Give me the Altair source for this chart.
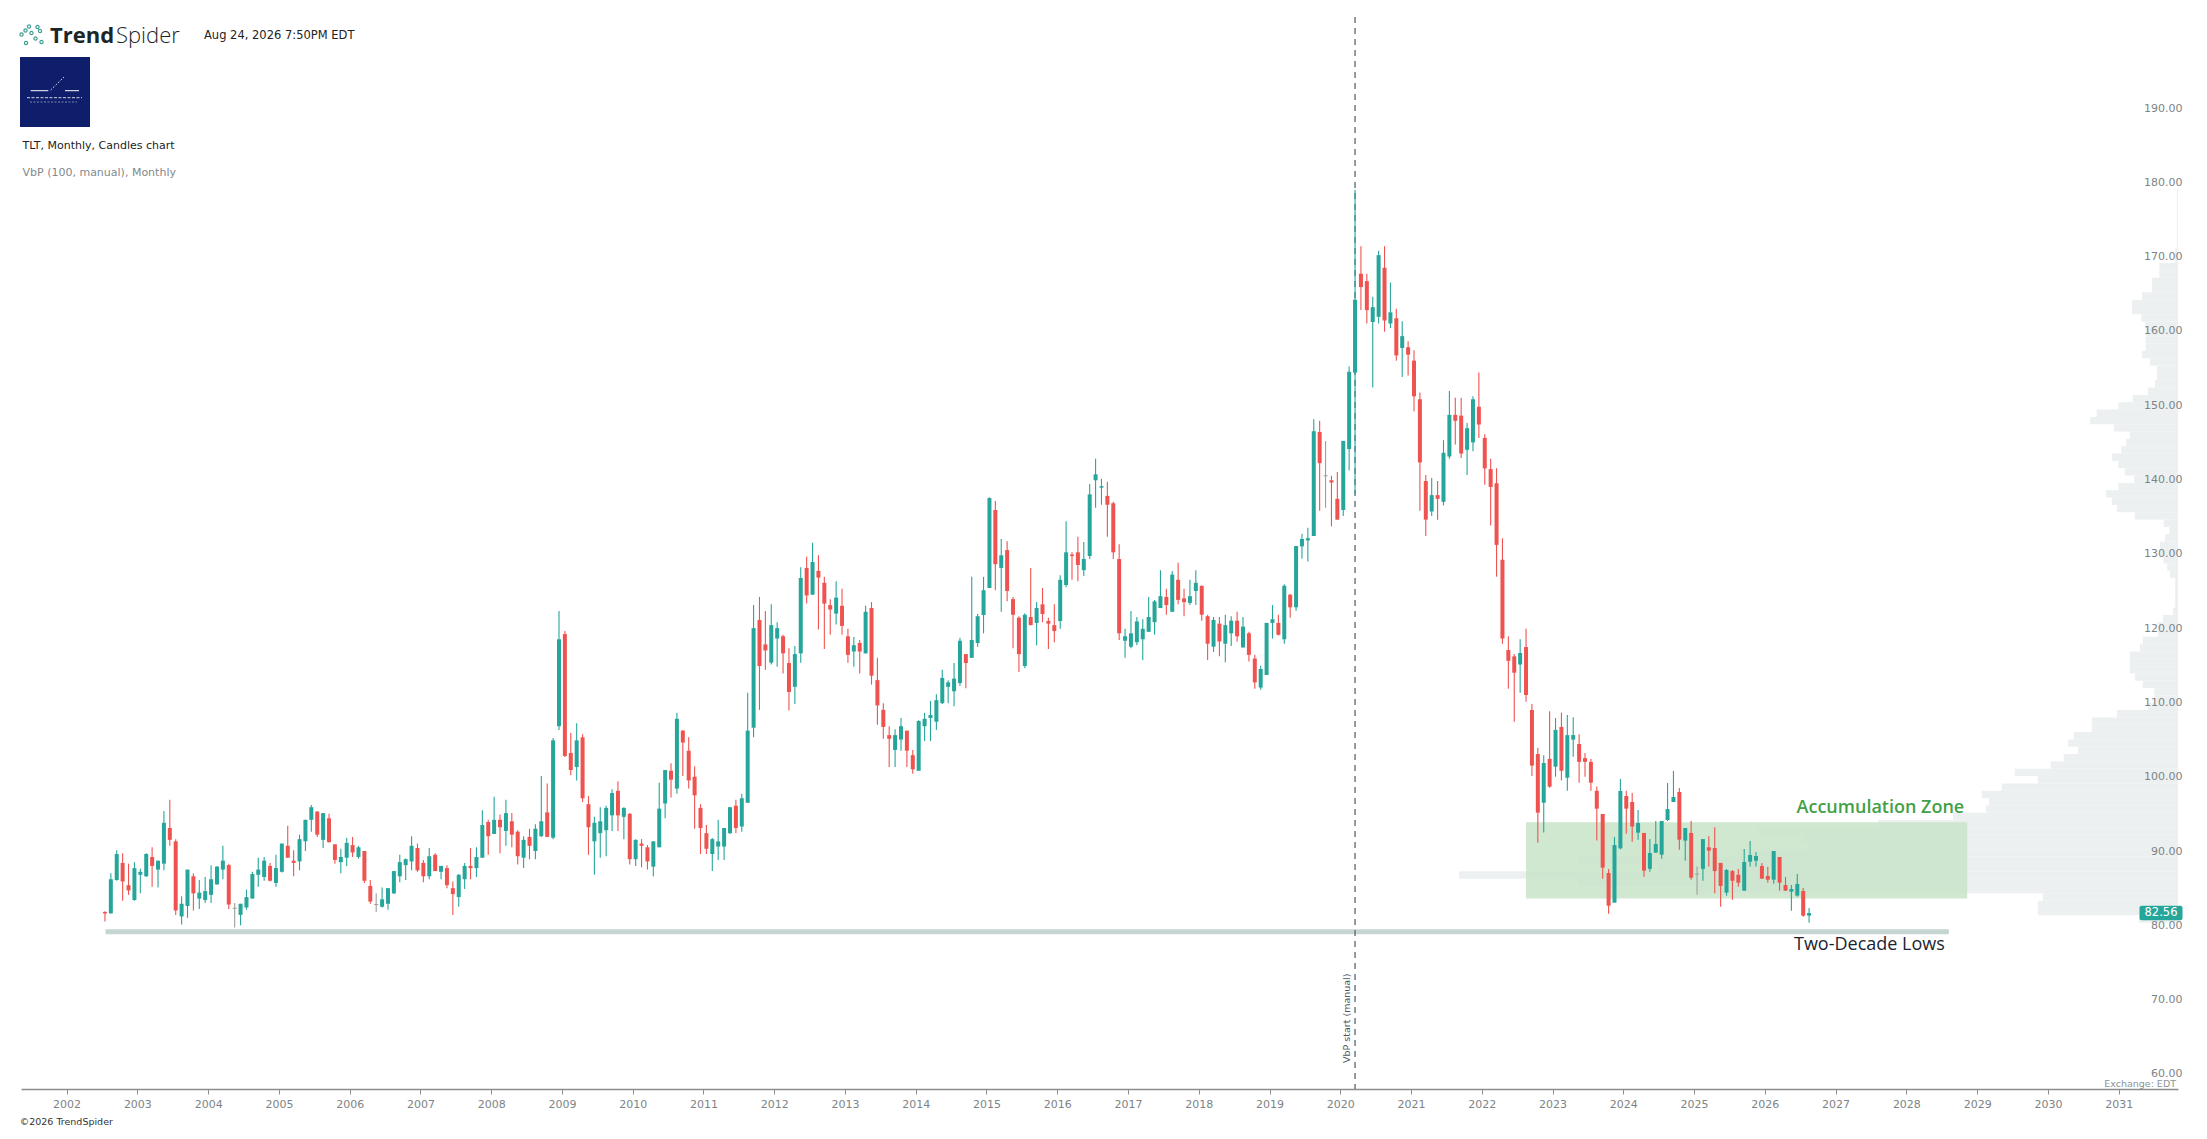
import altair as alt
import pandas as pd
import numpy as np

# ---------------- data (TLT monthly candles, Jul 2002 - Aug 2026) ----------------
START_YEAR, START_MONTH = 2002, 7

OPEN = [
    81.8, 81.6, 86.1, 88.4, 85.4, 83.4,
    86.8, 86.6, 89.2, 87.5, 88.3, 93.1, 91.3, 81.2, 82.6, 86.6, 83.6, 83.4,
    84.1, 85.5, 87.5, 88.1, 82.3, 81.4, 82.4, 83.6, 86.8, 86.5, 88.0, 85.7,
    87.2, 90.7, 88.7, 88.6, 91.3, 94.2, 95.3, 91.5, 94.4, 90.9, 88.5, 89.1,
    90.8, 89.2, 90.0, 85.3, 82.8, 82.5, 82.9, 84.3, 86.6, 88.1, 88.6, 90.4,
    88.4, 86.6, 89.5, 87.2, 87.7, 85.0, 83.8, 86.2, 88.0, 87.7, 89.1, 93.9,
    92.3, 94.2, 92.7, 94.0, 92.6, 89.1, 91.9, 90.0, 92.0, 95.2, 91.8, 106.8,
    119.2, 103.2, 101.3, 105.3, 96.3, 91.3, 92.4, 92.8, 94.8, 98.1, 94.6, 95.0,
    88.9, 91.0, 90.5, 87.9, 90.5, 96.4, 100.8, 98.4, 106.2, 103.5, 100.0, 95.8,
    92.4, 89.6, 90.6, 90.6, 92.4, 96.1, 93.3, 96.5, 106.6, 121.1, 117.8, 115.35,
    118.6, 118.9, 115.3, 112.1, 116.6, 128.1, 124.5, 127.7, 126.1, 123.1, 121.95, 123.0,
    118.9, 116.85, 118.0, 116.6, 122.7, 113.0, 109.0, 105.6, 103.6, 105.0, 106.2, 102.9,
    100.8, 106.8, 107.9, 107.4, 109.9, 112.1, 111.5, 112.6, 116.5, 116.0, 118.0, 121.76,
    125.4, 135.9, 128.1, 130.5, 123.9, 121.4, 114.9, 121.5, 120.7, 123.2, 120.95, 120.4,
    120.95, 125.8, 129.9, 130.2, 127.8, 129.7, 139.9, 138.9, 137.8, 136.8, 129.3, 118.3,
    117.5, 118.1, 118.5, 119.5, 120.8, 122.7, 124.2, 122.2, 126.5, 124.0, 123.4, 125.0,
    125.7, 121.6, 117.5, 120.6, 117.9, 119.3, 121.0, 117.4, 119.3, 115.9, 112.0, 113.7,
    120.7, 120.7, 118.5, 124.5, 122.8, 131.0, 131.8, 132.4, 146.4, 140.5, 139.9, 137.4,
    135.9, 144.1, 154.4, 167.7, 166.7, 161.2, 161.9, 168.5, 161.0, 161.7, 157.7, 157.8,
    156.0, 150.8, 139.8, 135.7, 137.9, 137.0, 143.1, 148.7, 148.6, 144.0, 145.0, 149.8,
    145.6, 141.4, 139.5, 129.2, 117.05, 116.2, 115.1, 117.45, 108.98, 103.06, 96.5, 102.4,
    101.35, 106.7, 99.87, 105.0, 104.4, 102.5, 102.0, 98.1, 94.98, 87.04, 83.05, 90.36,
    97.4, 96.6, 92.47, 92.43, 87.6, 89.78, 89.51, 94.17, 96.6, 97.94, 91.4, 92.43,
    86.9, 87.6, 90.5, 90.4, 88.4, 84.4, 87.3, 86.8, 84.66, 88.57, 88.7, 87.98,
    86.64, 86.14, 89.2, 85.43, 84.53, 84.0, 84.62, 81.3,
]
HIGH = [
    81.9, 87.0, 90.1, 89.7, 88.3, 88.5,
    87.6, 89.7, 90.5, 88.7, 95.4, 96.9, 91.6, 83.9, 87.5, 87.0, 86.1, 86.5,
    88.1, 88.0, 90.7, 88.3, 83.0, 82.9, 84.8, 87.2, 89.1, 89.2, 88.4, 89.5,
    91.0, 93.4, 90.1, 92.2, 94.2, 96.2, 95.4, 95.1, 95.0, 90.9, 90.3, 91.8,
    91.9, 90.7, 90.0, 86.1, 84.3, 85.1, 85.0, 87.3, 89.5, 89.0, 92.0, 91.0,
    88.8, 90.4, 89.7, 88.0, 88.1, 85.9, 86.9, 88.4, 90.4, 90.5, 95.5, 94.2,
    97.3, 94.9, 96.9, 95.1, 92.8, 92.0, 93.0, 93.6, 100.1, 99.1, 105.2, 122.3,
    119.6, 105.9, 107.2, 105.7, 97.4, 94.6, 95.9, 96.1, 98.3, 99.4, 95.9, 95.1,
    91.6, 91.6, 90.8, 91.3, 99.2, 100.9, 101.8, 108.6, 106.3, 105.3, 101.4, 96.3,
    93.5, 91.75, 94.2, 93.1, 95.9, 96.9, 97.7, 111.3, 123.1, 124.2, 122.3, 123.2,
    120.8, 119.1, 117.3, 117.6, 128.2, 129.6, 131.5, 129.8, 126.9, 123.9, 126.3, 125.3,
    119.9, 118.8, 118.4, 123.0, 123.5, 116.0, 109.9, 106.8, 106.4, 107.9, 106.2, 103.6,
    107.6, 108.6, 110.2, 111.1, 114.4, 113.0, 115.3, 118.7, 116.5, 126.9, 121.9, 126.9,
    137.6, 137.1, 132.0, 131.7, 124.2, 121.6, 122.0, 128.1, 123.5, 125.4, 121.4, 123.2,
    127.1, 134.4, 130.2, 132.3, 131.6, 139.4, 142.8, 140.1, 139.7, 137.0, 131.3, 119.9,
    122.3, 121.5, 121.2, 124.2, 123.8, 127.8, 125.3, 127.7, 128.8, 125.3, 126.5, 127.8,
    125.7, 121.8, 121.5, 121.5, 121.8, 121.6, 122.2, 121.5, 119.5, 116.4, 114.95, 120.7,
    123.1, 121.8, 125.9, 124.6, 131.06, 132.7, 133.5, 148.1, 147.9, 145.2, 140.5, 141.0,
    145.2, 155.2, 179.0, 171.4, 167.7, 164.6, 170.8, 171.4, 166.5, 163.0, 161.3, 158.6,
    157.4, 151.7, 140.6, 140.2, 139.8, 145.3, 151.9, 151.0, 151.0, 147.6, 151.2, 154.4,
    146.1, 142.8, 141.5, 132.1, 118.9, 116.5, 118.5, 119.9, 109.8, 103.9, 102.9, 108.8,
    107.9, 108.6, 108.3, 108.0, 105.7, 103.2, 102.4, 98.7, 94.98, 87.58, 91.9, 99.7,
    98.1, 97.8, 95.52, 92.43, 91.62, 94.04, 94.04, 99.15, 100.77, 98.48, 93.1, 94.04,
    87.9, 91.6, 92.0, 93.2, 88.4, 87.58, 87.45, 87.58, 90.27, 91.35, 89.87, 88.39,
    87.85, 90.0, 89.2, 86.5, 85.43, 86.9, 85.02, 82.33,
]
LOW = [
    80.5, 81.6, 86.0, 83.3, 84.1, 83.3,
    84.3, 86.5, 85.2, 85.1, 87.4, 90.7, 81.4, 80.1, 81.0, 82.0, 82.2, 83.0,
    83.0, 85.5, 86.2, 82.2, 79.7, 80.0, 82.1, 83.6, 85.2, 86.0, 85.9, 85.2,
    87.1, 89.1, 86.6, 87.4, 90.0, 92.6, 91.9, 90.4, 91.1, 88.3, 87.0, 88.0,
    89.2, 88.97, 85.7, 82.9, 81.8, 82.4, 82.1, 84.2, 85.8, 86.1, 87.4, 87.2,
    85.8, 86.2, 87.3, 86.2, 85.0, 81.4, 82.5, 84.9, 86.2, 86.5, 89.1, 89.5,
    92.3, 89.7, 90.7, 90.5, 88.2, 87.7, 88.9, 88.9, 91.9, 91.9, 91.6, 106.3,
    102.65, 100.2, 99.5, 96.6, 89.5, 86.8, 89.1, 89.3, 92.7, 92.7, 91.6, 88.2,
    88.0, 87.8, 87.5, 86.6, 90.5, 94.4, 97.2, 97.7, 100.1, 98.4, 93.0, 89.6,
    89.6, 87.3, 88.8, 88.8, 92.3, 92.4, 92.6, 96.5, 105.3, 109.0, 114.4, 115.1,
    114.8, 113.9, 108.9, 109.8, 115.35, 123.3, 124.5, 119.8, 117.2, 119.1, 120.5, 119.1,
    115.35, 114.8, 113.9, 116.6, 112.4, 107.0, 105.1, 101.3, 101.3, 103.5, 101.3, 100.4,
    100.8, 104.8, 104.8, 106.3, 109.8, 109.9, 109.5, 112.2, 111.9, 116.0, 117.5, 119.3,
    125.4, 125.1, 122.2, 123.6, 117.3, 114.1, 114.6, 120.4, 117.7, 120.8, 117.2, 118.1,
    119.9, 125.5, 126.5, 126.3, 127.0, 129.3, 136.2, 136.6, 132.3, 129.3, 118.4, 116.0,
    117.3, 117.7, 115.7, 119.5, 119.1, 122.7, 121.8, 122.2, 123.2, 121.6, 123.1, 123.1,
    121.0, 115.7, 116.8, 116.2, 115.4, 117.6, 118.2, 117.4, 115.5, 111.85, 111.7, 113.7,
    118.6, 119.0, 117.9, 121.4, 122.35, 129.35, 128.95, 132.4, 135.8, 136.2, 133.7, 134.6,
    135.1, 141.2, 138.1, 162.8, 161.0, 152.4, 161.0, 159.9, 160.4, 156.0, 153.8, 154.0,
    149.2, 135.8, 132.4, 135.1, 134.6, 136.5, 142.8, 144.7, 142.9, 140.6, 143.8, 145.6,
    139.3, 133.8, 126.9, 117.9, 111.85, 107.4, 111.3, 110.1, 100.1, 91.1, 92.5, 98.5,
    100.0, 99.5, 98.1, 102.7, 99.2, 100.0, 98.1, 91.4, 86.28, 81.57, 83.05, 90.23,
    92.34, 91.26, 91.53, 86.55, 87.22, 89.78, 88.97, 94.04, 96.6, 90.18, 88.7, 86.14,
    84.1, 86.0, 87.9, 84.3, 82.5, 83.99, 83.45, 85.2, 84.66, 87.9, 87.9, 86.28,
    85.74, 85.6, 84.66, 84.66, 81.97, 83.86, 81.16, 80.36,
]
CLOSE = [
    81.6, 86.2, 89.6, 85.9, 84.7, 87.7,
    87.2, 89.6, 88.0, 88.7, 93.8, 91.5, 82.0, 82.9, 87.5, 84.3, 84.4, 84.6,
    86.2, 87.9, 88.7, 82.8, 82.3, 82.9, 83.8, 86.9, 87.5, 88.7, 86.0, 87.7,
    91.0, 89.1, 88.4, 91.6, 94.2, 95.9, 92.2, 95.1, 91.2, 88.8, 89.2, 91.1,
    89.8, 90.5, 86.0, 83.2, 82.8, 83.5, 85.0, 87.3, 88.5, 88.9, 90.7, 87.4,
    86.6, 89.3, 87.3, 88.0, 85.4, 84.2, 86.8, 88.0, 87.7, 89.2, 93.5, 92.0,
    94.2, 93.2, 95.1, 92.2, 89.3, 91.5, 90.7, 93.0, 94.0, 91.9, 104.9, 118.5,
    102.8, 100.9, 104.9, 97.1, 93.2, 93.8, 94.0, 95.8, 97.8, 94.8, 95.8, 88.9,
    91.5, 90.7, 88.6, 91.3, 95.7, 100.9, 99.6, 107.8, 104.6, 99.5, 97.5, 93.1,
    90.3, 91.6, 91.3, 93.1, 95.9, 93.1, 97.1, 106.2, 120.0, 114.9, 117.0, 120.4,
    120.0, 116.6, 111.4, 116.5, 126.75, 124.4, 128.9, 126.8, 123.3, 122.5, 124.1, 120.3,
    116.4, 117.7, 116.85, 122.2, 113.6, 109.6, 106.7, 105.1, 105.6, 106.8, 103.5, 101.0,
    107.5, 107.8, 108.3, 110.3, 113.3, 112.7, 113.2, 118.3, 115.3, 118.4, 121.6, 125.1,
    137.5, 128.6, 129.8, 125.0, 121.8, 116.5, 121.8, 120.4, 122.7, 121.9, 120.6, 119.6,
    126.5, 130.2, 129.7, 128.5, 129.3, 138.0, 140.7, 139.1, 136.6, 130.2, 119.3, 118.9,
    119.3, 120.9, 119.9, 121.5, 123.6, 124.3, 123.1, 127.2, 123.8, 123.5, 124.3, 126.1,
    121.8, 117.9, 121.1, 118.2, 120.4, 121.0, 118.9, 120.2, 116.4, 112.7, 114.5, 120.7,
    121.2, 119.1, 125.7, 122.8, 131.06, 132.0, 132.1, 146.5, 142.2, 140.5, 139.6, 134.6,
    145.2, 154.5, 164.2, 165.9, 162.8, 163.2, 170.2, 161.4, 162.5, 156.7, 159.3, 156.8,
    151.2, 142.3, 134.6, 137.9, 137.4, 143.6, 148.7, 147.9, 143.5, 146.9, 150.8, 147.4,
    141.5, 139.0, 131.2, 118.6, 115.6, 114.0, 116.65, 111.0, 101.5, 95.16, 101.85, 98.66,
    106.3, 100.8, 105.6, 105.6, 102.0, 102.0, 99.2, 95.7, 87.76, 82.64, 90.8, 98.08,
    95.7, 93.3, 93.77, 87.36, 89.73, 90.94, 94.04, 95.65, 97.27, 91.53, 93.1, 86.41,
    86.9, 91.6, 90.05, 87.3, 85.3, 87.45, 86.0, 85.74, 88.52, 89.46, 89.33, 86.28,
    86.14, 90.0, 85.74, 84.66, 84.89, 85.56, 81.3, 81.66,
]

# Volume-by-price profile: 100 rows between these prices, relative volume (POC = 100)
VBP_LOW, VBP_HIGH = 80.36, 179.0
VBP_VOLUME = [
    5.4, 19.5, 19.5, 18.8, 66.8, 83.4, 100.0, 72.3, 83.4, 61.2,
    51.5, 52.2, 58.4, 41.7, 31.3, 26.7, 26.3, 27.3, 24.5, 19.5,
    22.7, 17.7, 15.9, 13.9, 15.3, 14.5, 12.0, 12.0, 8.5, 4.2,
    3.3, 3.3, 4.9, 6.0, 6.7, 6.7, 6.7, 5.3, 4.9, 2.8,
    2.8, 2.1, 0.7, 0.4, 0.4, 0.4, 0.4, 1.1, 1.5, 2.0,
    2.5, 2.5, 1.8, 1.2, 2.0, 6.0, 8.5, 9.2, 10.0, 8.3,
    6.1, 7.4, 8.3, 9.2, 7.9, 7.2, 6.7, 8.9, 12.2, 11.3,
    8.3, 6.3, 4.2, 3.2, 2.9, 2.9, 3.9, 5.0, 4.5, 4.5,
    4.5, 4.5, 5.1, 6.4, 6.4, 5.0, 3.6, 3.6, 2.6, 2.6,
    0.4, 0.4, 0.15, 0.15, 0.15, 0.15, 0.15, 0.15, 0.15, 0.15,
]

# annotations (dates as decimal years, prices in $)
ZONE_START, ZONE_END = 2022.625, 2028.86
ZONE_LOW, ZONE_HIGH = 83.6, 93.86
LOWS_START, LOWS_END, LOWS_PRICE = 2002.55, 2028.6, 79.12
VBP_START = 2020 + 2.5 / 12
LAST_PRICE_LABEL = "82.56"

X_DOMAIN = [2001.426, 2031.768]
Y_DOMAIN = [57.97, 202.25]
YEAR_TICKS = list(range(2002, 2032))
PRICE_TICKS = list(range(60, 200, 10))

# ---------------- frames ----------------
n = len(OPEN)
t = []
for i in range(n):
    mi = START_MONTH - 1 + i
    t.append(START_YEAR + mi // 12 + ((mi % 12) + 0.5) / 12)
df = pd.DataFrame({"t": t, "open": OPEN, "high": HIGH, "low": LOW, "close": CLOSE})
o = df["open"].to_numpy()
c = df["close"].to_numpy()
df["dir"] = np.where(c > o, "up", np.where(c < o, "down", "flat"))
df["body_lo"] = np.minimum(o, c)
df["body_hi"] = np.maximum(o, c)
flat = df["dir"] == "flat"
df.loc[flat, "body_lo"] = df.loc[flat, "open"] - 0.07
df.loc[flat, "body_hi"] = df.loc[flat, "open"] + 0.07

step = (VBP_HIGH - VBP_LOW) / len(VBP_VOLUME)
vbp = pd.DataFrame({
    "p0": [VBP_LOW + i * step for i in range(len(VBP_VOLUME))],
    "p1": [VBP_LOW + (i + 1) * step for i in range(len(VBP_VOLUME))],
    "vol": VBP_VOLUME,
    "zero": 0.0,
})

zone = pd.DataFrame({"x1": [ZONE_START], "x2": [ZONE_END], "y1": [ZONE_LOW], "y2": [ZONE_HIGH],
                     "label": ["Accumulation Zone"]})
lows = pd.DataFrame({"x1": [LOWS_START], "x2": [LOWS_END], "y": [LOWS_PRICE], "label": ["Two-Decade Lows"]})
vline = pd.DataFrame({"t": [VBP_START], "label": ["VbP start (manual)"]})
last = df.tail(1).copy()
last["label"] = LAST_PRICE_LABEL
one = pd.DataFrame({"a": [0]})

# ---------------- geometry / style ----------------
W, H = 2157, 1072
UP, DOWN, FLAT = "#26a69a", "#ef5350", "#9e9e9e"
AXIS_GRAY = "#7d8486"

xs = alt.Scale(domain=X_DOMAIN, nice=False, zero=False)
ys = alt.Scale(domain=Y_DOMAIN, nice=False, zero=False)
xaxis = alt.Axis(values=YEAR_TICKS, format="d", title=None, grid=False,
                 domainColor="#8c8c8c", domainWidth=1.5, tickColor="#8c8c8c", tickSize=5,
                 labelColor=AXIS_GRAY, labelFont="DejaVu Sans", labelFontSize=11,
                 labelPadding=4, labelFlush=False)
yaxis = alt.Axis(orient="right", values=PRICE_TICKS, format=".2f", title=None, grid=False,
                 domain=False, ticks=False, tickSize=0, labelAlign="right", labelPadding=4,
                 labelColor=AXIS_GRAY, labelFont="DejaVu Sans", labelFontSize=11,
                 labelFlush=False, zindex=1)
cscale = alt.Scale(domain=["up", "down", "flat"], range=[UP, DOWN, FLAT])

def X(field):
    return alt.X(field, type="quantitative", scale=xs, axis=xaxis)

def Y(field):
    return alt.Y(field, type="quantitative", scale=ys, axis=yaxis)

# volume profile (own horizontal scale, growing from the right edge)
vbp_layer = alt.Chart(vbp).mark_rect(color="#ecf0f1").encode(
    x=alt.X("vol:Q", scale=alt.Scale(domain=[0, 300], reverse=True), axis=None),
    x2="zero:Q",
    y=Y("p0"), y2="p1:Q",
)

zone_rect = alt.Chart(zone).mark_rect(color="#c9e4ca", opacity=0.88).encode(
    x=X("x1"), x2="x2:Q", y=Y("y1"), y2="y2:Q")
zone_text = alt.Chart(zone).mark_text(align="right", baseline="alphabetic", dx=-3, dy=-9,
                                      font="Open Sans", fontSize=18, fontWeight=600,
                                      color="#43a047").encode(
    x=X("x2"), y=Y("y2"), text="label:N")

lows_rule = alt.Chart(lows).mark_rule(strokeWidth=5, color="#c5d6d2").encode(
    x=X("x1"), x2="x2:Q", y=Y("y"))
lows_text = alt.Chart(lows).mark_text(align="right", baseline="alphabetic", dx=-4, dy=18,
                                      font="Open Sans", fontSize=18, fontWeight=500,
                                      color="#1b2430").encode(
    x=X("x2"), y=Y("y"), text="label:N")

dash = alt.Chart(vline).mark_rule(strokeDash=[6, 5], strokeWidth=1.3, color="#5b6570").encode(
    x=X("t"))
dash_text = alt.Chart(vline).mark_text(angle=270, align="left", baseline="bottom", dy=-3,
                                       font="DejaVu Sans", fontSize=9.5, color="#50585f").encode(
    x=X("t"), y=alt.value(H - 26), text="label:N")

wicks = alt.Chart(df).mark_rule(strokeWidth=1.1).encode(
    x=X("t"), y=Y("low"), y2="high:Q",
    color=alt.Color("dir:N", scale=cscale, legend=None))
bodies = alt.Chart(df).mark_bar(size=4).encode(
    x=X("t"), y=Y("body_lo"), y2="body_hi:Q",
    color=alt.Color("dir:N", scale=cscale, legend=None))

BADGE = ("M-0.9,-0.34 L0.9,-0.34 Q1,-0.34 1,-0.24 L1,0.24 Q1,0.34 0.9,0.34 "
         "L-0.9,0.34 Q-1,0.34 -1,0.24 L-1,-0.24 Q-1,-0.34 -0.9,-0.34 Z")
badge = alt.Chart(last).mark_point(shape=BADGE, filled=True, size=43 * 43, opacity=1,
                                   color=UP, strokeWidth=0).encode(
    x=alt.value(W - 17), y=Y("close"))
badge_text = alt.Chart(last).mark_text(font="DejaVu Sans", fontSize=11.5, color="white",
                                       baseline="middle", align="center").encode(
    x=alt.value(W - 17), y=Y("close"), text="label:N")

# ---------------- header / footer decorations ----------------
LOGO = " ".join(
    f"M{cx - 0.13:.2f},{cy:.2f} a0.13,0.13 0 1,0 0.26,0 a0.13,0.13 0 1,0 -0.26,0"
    for cx, cy in [(-0.88, -0.04), (-0.56, -0.36), (-0.28, -0.68), (-0.08, -0.16),
                   (0.4, -0.64), (0.6, -0.32), (0.24, 0.28), (0.72, 0.56), (-0.52, 0.64)]
)
logo = alt.Chart(one).mark_point(shape=LOGO, size=625, filled=False, strokeWidth=1.2,
                                 color="#3f9e93", opacity=1).encode(
    x=alt.value(11.5), y=alt.value(18))

def txt(s, x, y, size, color, weight=400, font="DejaVu Sans", align="left", baseline="middle"):
    return alt.Chart(one).mark_text(text=s, align=align, baseline=baseline, font=font,
                                    fontSize=size, fontWeight=weight, color=color).encode(
        x=alt.value(x), y=alt.value(y))

brand1 = txt("Trend", 29, 25.5, 22, "#1b2626", weight=700, font="Open Sans", baseline="alphabetic")
brand2 = txt("Spider", 95, 25.5, 22, "#1b2626", weight=300, font="Open Sans", baseline="alphabetic")
stamp = txt("Aug 24, 2026 7:50PM EDT", 183, 22.3, 11.5, "#1e2323", baseline="alphabetic")
title1 = txt("TLT, Monthly, Candles chart", 1.5, 129.4, 11, "#222222")
title2 = txt("VbP (100, manual), Monthly", 1.5, 156, 11, "#7f8a8c")
exch = txt("Exchange: EDT", W - 2, H - 5, 9.5, "#8a9496", align="right")
copy_ = txt("\u00a92026 TrendSpider", -1.3, H + 33, 9.5, "#333333")

square = alt.Chart(one).mark_rect(color="#0f1e6b").encode(
    x=alt.value(-1), x2=alt.value(69), y=alt.value(40), y2=alt.value(110))
sq_lines = [
    alt.Chart(one).mark_rule(color="white", strokeWidth=1).encode(
        x=alt.value(9.7), x2=alt.value(27.3), y=alt.value(73.7), y2=alt.value(73.7)),
    alt.Chart(one).mark_rule(color="white", strokeWidth=1).encode(
        x=alt.value(44), x2=alt.value(58), y=alt.value(73.7), y2=alt.value(73.7)),
    alt.Chart(one).mark_rule(color="white", strokeWidth=1, strokeDash=[1.5, 2]).encode(
        x=alt.value(29.7), x2=alt.value(43), y=alt.value(73), y2=alt.value(60)),
    alt.Chart(one).mark_rule(color="white", strokeWidth=1, strokeDash=[3, 1.5], opacity=0.8).encode(
        x=alt.value(6), x2=alt.value(61), y=alt.value(80.7), y2=alt.value(80.7)),
    alt.Chart(one).mark_rule(color="white", strokeWidth=0.8, strokeDash=[2, 1.5], opacity=0.6).encode(
        x=alt.value(9), x2=alt.value(56), y=alt.value(85), y2=alt.value(85)),
]

main = alt.layer(
    zone_rect, lows_rule, dash, wicks, bodies,
    zone_text, lows_text, dash_text, badge, badge_text,
    logo, brand1, brand2, stamp, square, *sq_lines, title1, title2, exch, copy_,
)

chart = alt.layer(vbp_layer, main).resolve_scale(x="independent").properties(
    width=W, height=H,
    padding={"left": 13, "top": 9, "right": 18, "bottom": 40},
    autosize=alt.AutoSizeParams(type="none"),
    background="white",
).configure_view(stroke=None)

chart.save("out.html", embed_options={"renderer": "svg", "actions": False})
